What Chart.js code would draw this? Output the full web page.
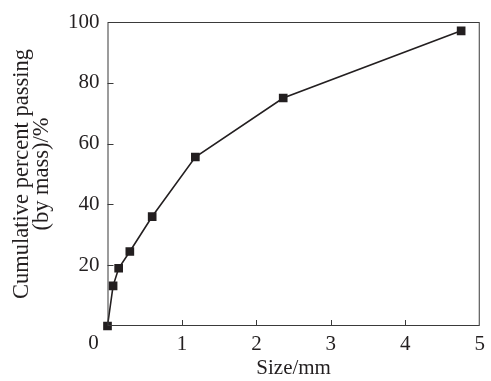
<!DOCTYPE html>
<html lang="en">
<head>
    <meta charset="UTF-8">
    <title>Cumulative percent passing</title>
    <script src="https://cdn.jsdelivr.net/npm/chart.js"></script>
    <style>
        html, body {
            margin: 0;
            padding: 0;
            background: #fff;
        }

        .chart-box {
            width: 491px;
            height: 381px;
        }
    </style>
</head>
<body>
    <div class="chart-box">
        <canvas id="gradingChart" width="491" height="381"></canvas>
    </div>

    <script>
        // Sieve sizes (mm) and cumulative passing (%)
        const sizes = [0, 0.075, 0.15, 0.3, 0.6, 1.18, 2.36, 4.75];
        const passing = [0, 13.2, 19, 24.5, 36, 55.6, 75, 97.1];
        const xTicks = [0, 1, 2, 3, 4, 5];
        const yTicks = [0, 20, 40, 60, 80, 100];

        const serif = "'Liberation Serif', 'Times New Roman', serif";
        const ink = '#231f20';

        // frame around the plot, inward tick marks and the shared origin "0"
        const frameTicks = {
            id: 'frameTicks',
            afterDatasetsDraw(chart) {
                const { ctx, chartArea: a, scales: { x, y } } = chart;
                ctx.save();
                ctx.strokeStyle = '#3a3a3a';
                ctx.lineWidth = 1;
                ctx.strokeRect(a.left + 0.5, a.top + 0.5, a.right - a.left - 1, a.bottom - a.top - 1);
                ctx.beginPath();
                xTicks.slice(1, -1).forEach(v => {
                    const px = Math.round(x.getPixelForValue(v)) + 0.5;
                    ctx.moveTo(px, a.bottom);
                    ctx.lineTo(px, a.bottom - 6);
                });
                yTicks.slice(1, -1).forEach(v => {
                    const py = Math.round(y.getPixelForValue(v)) + 0.5;
                    ctx.moveTo(a.left, py);
                    ctx.lineTo(a.left + 6, py);
                });
                ctx.stroke();
                ctx.fillStyle = ink;
                ctx.font = '21px ' + serif;
                ctx.textAlign = 'center';
                ctx.textBaseline = 'middle';
                ctx.fillText('0', x.getPixelForValue(0) - 14, y.getPixelForValue(0) + 17);
                ctx.restore();
            }
        };

        new Chart(document.getElementById('gradingChart'), {
            type: 'line',
            data: {
                datasets: [{
                    data: sizes.map((s, i) => ({ x: s, y: passing[i] })),
                    borderColor: ink,
                    borderWidth: 1.6,
                    backgroundColor: ink,
                    pointStyle: 'rect',
                    pointRadius: 5,
                    pointHoverRadius: 5,
                    tension: 0,
                    clip: false
                }]
            },
            options: {
                responsive: false,
                animation: false,
                layout: { padding: { top: 22, right: 5, left: 0, bottom: 0 } },
                plugins: {
                    legend: { display: false },
                    tooltip: { enabled: false }
                },
                scales: {
                    x: {
                        type: 'linear',
                        min: 0,
                        max: 5,
                        afterBuildTicks: s => { s.ticks = xTicks.map(v => ({ value: v })); },
                        ticks: {
                            color: ink,
                            font: { family: serif, size: 21 },
                            padding: 6,
                            maxRotation: 0,
                            callback: v => v === 0 ? '' : v
                        },
                        grid: { display: false, drawTicks: false },
                        border: { display: false },
                        title: {
                            display: true,
                            text: 'Size/mm',
                            color: ink,
                            font: { family: serif, size: 21 },
                            padding: { top: 4, bottom: 0 }
                        },
                        afterFit: s => { s.height = 55; }
                    },
                    y: {
                        min: 0,
                        max: 100,
                        afterBuildTicks: s => { s.ticks = yTicks.map(v => ({ value: v })); },
                        ticks: {
                            color: ink,
                            font: { family: serif, size: 21 },
                            padding: 8,
                            callback: v => v === 0 ? '' : v
                        },
                        grid: { display: false, drawTicks: false },
                        border: { display: false },
                        title: {
                            display: true,
                            text: ['Cumulative percent passing', '(by mass)/%'],
                            color: ink,
                            font: { family: serif, size: 22.5, lineHeight: 0.88 },
                            padding: { top: 12, bottom: 0 }
                        },
                        afterFit: s => { s.width = 107.5; }
                    }
                }
            },
            plugins: [frameTicks]
        });
    </script>
</body>
</html>
